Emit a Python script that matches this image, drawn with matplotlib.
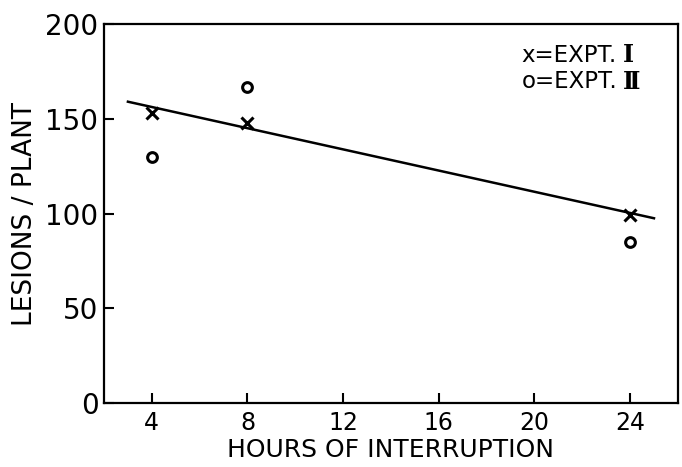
import matplotlib
matplotlib.use("Agg")
import matplotlib.pyplot as plt

# Lesions per plant vs hours of interruption
hours = [4, 8, 24]
expt1 = [153, 148, 99]
expt2 = [130, 167, 85]

# fitted line drawn by hand in the original
line_x = [3, 25]
line_y = [159, 97.5]

xticks = [4, 8, 12, 16, 20, 24]
yticks = [0, 50, 100, 150, 200]

key_labels = ['x=EXPT.', 'o=EXPT.']
key_numerals = ['Ⅰ', 'Ⅱ']

plt.rcParams['font.family'] = ['DejaVu Sans']

fig = plt.figure(figsize=(6.82, 4.67), dpi=100)
ax = fig.add_axes([0.1525, 0.137, 0.8415, 0.8116])

ax.plot(line_x, line_y, color='black', lw=1.8)
ax.plot(hours, expt1, 'x', color='black', ms=8, mew=2.2)
ax.plot(hours, expt2, 'o', color='black', ms=7, mew=2.2, mfc='none')

ax.set_xlim(2, 26)
ax.set_ylim(0, 200)
ax.set_xticks(xticks)
ax.set_yticks(yticks)

for s in ax.spines.values():
    s.set_linewidth(1.6)

ax.tick_params(axis='x', direction='in', length=7, width=1.5, labelsize=17, pad=6)
ax.tick_params(axis='y', direction='in', length=7, width=1.5, labelsize=20, pad=4)

ax.set_xlabel('HOURS OF INTERRUPTION', fontsize=18, labelpad=2)
ax.set_ylabel('LESIONS / PLANT', fontsize=19, labelpad=5)

# hand-lettered key
for i, (lab, num) in enumerate(zip(key_labels, key_numerals)):
    t = ax.text(0.728, 0.918 - i * 0.071, lab, transform=ax.transAxes,
                fontsize=16.5, ha='left', va='center')
    ax.annotate(num, xy=(1, 0.5), xycoords=t, xytext=(4, 0),
                textcoords='offset points', fontsize=17, ha='left',
                va='center', family=['DejaVu Serif', 'DejaVu Sans'],
                fontweight='bold')

fig.savefig('out.png', dpi=100)
